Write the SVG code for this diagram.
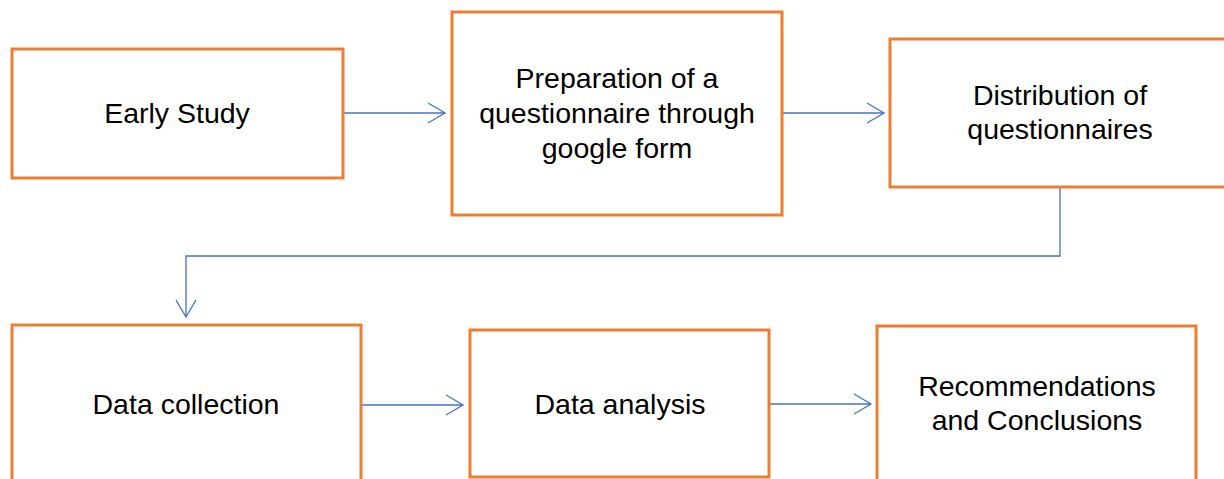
<svg xmlns="http://www.w3.org/2000/svg" width="1224" height="479" viewBox="0 0 1224 479">
<style>
.box{fill:#fff;stroke:#ED7D31;stroke-width:3}
.lbl{font-family:"Liberation Sans",Arial,sans-serif;font-size:28.5px;fill:#000;text-anchor:middle}
.con{fill:none;stroke:#4472C4;stroke-width:1.3}
</style>
<defs>
<marker id="arr" viewBox="0 0 20 22" refX="18" refY="11" markerWidth="20" markerHeight="22" markerUnits="userSpaceOnUse" orient="auto">
<path d="M1,1 L18,11 L1,21" fill="none" stroke="#4472C4" stroke-width="1.3"/>
</marker>
</defs>
<rect width="1224" height="479" fill="#fff"/>
<g id="connectors">
<path class="con" d="M343,113 H445" marker-end="url(#arr)"/>
<path class="con" d="M782,113 H884" marker-end="url(#arr)"/>
<path class="con" d="M1060,187 V256 H186 V317" marker-end="url(#arr)"/>
<path class="con" d="M361,405 H463" marker-end="url(#arr)"/>
<path class="con" d="M769,404 H871" marker-end="url(#arr)"/>
</g>
<g id="n1">
<rect class="box" x="12" y="49" width="331" height="129"/>
<text class="lbl" x="177" y="123">Early Study</text>
</g>
<g id="n2">
<rect class="box" x="452" y="12" width="330" height="203"/>
<text class="lbl" x="617" y="88">Preparation of a</text>
<text class="lbl" x="617" y="123">questionnaire through</text>
<text class="lbl" x="617" y="158">google form</text>
</g>
<g id="n3">
<rect class="box" x="890" y="39" width="340" height="148"/>
<text class="lbl" x="1060" y="105">Distribution of</text>
<text class="lbl" x="1060" y="139">questionnaires</text>
</g>
<g id="n4">
<rect class="box" x="12" y="325" width="349" height="170"/>
<text class="lbl" x="186" y="414">Data collection</text>
</g>
<g id="n5">
<rect class="box" x="470" y="330" width="299" height="147"/>
<text class="lbl" x="620" y="414">Data analysis</text>
</g>
<g id="n6">
<rect class="box" x="877" y="326" width="319" height="170"/>
<text class="lbl" x="1037" y="396">Recommendations</text>
<text class="lbl" x="1037" y="430">and Conclusions</text>
</g>
</svg>
